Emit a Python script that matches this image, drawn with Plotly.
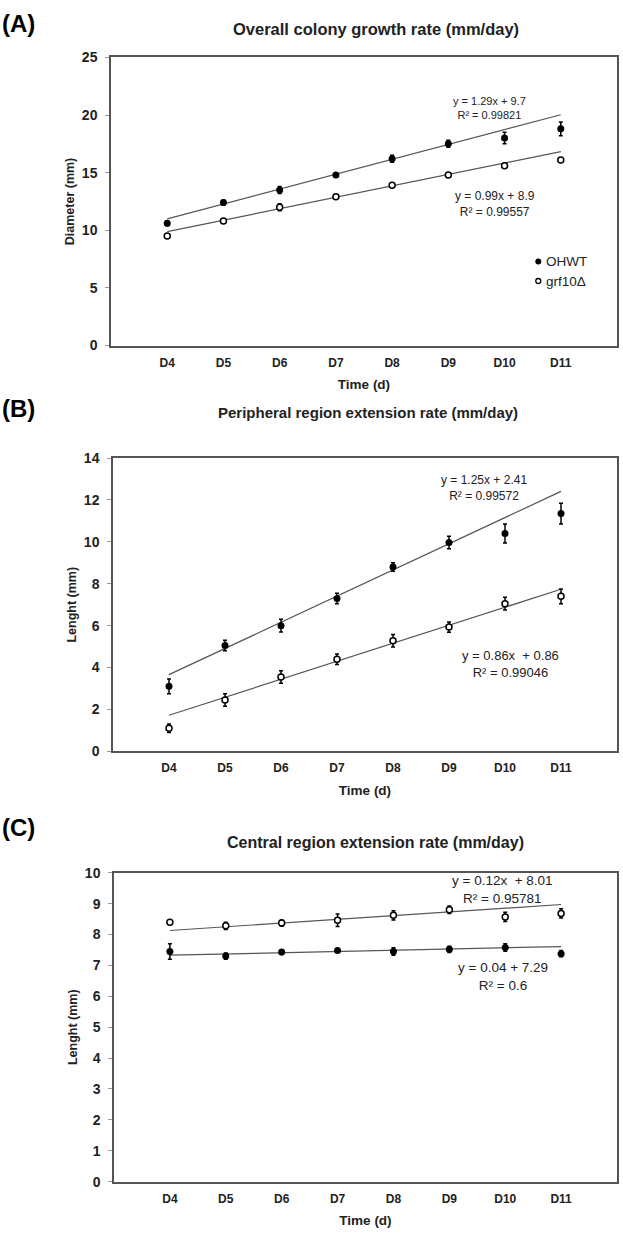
import plotly.graph_objects as go

# ---------------- data ----------------
days = [4, 5, 6, 7, 8, 9, 10, 11]
tick_labels = ["D4", "D5", "D6", "D7", "D8", "D9", "D10", "D11"]
series_names = ["OHWT", "grf10Δ"]

A_wt = [10.6, 12.4, 13.5, 14.8, 16.2, 17.5, 18.0, 18.8]
A_wt_err = [0.2, 0.2, 0.3, 0.2, 0.3, 0.3, 0.5, 0.6]
A_grf = [9.5, 10.8, 12.0, 12.9, 13.9, 14.8, 15.6, 16.1]
A_grf_err = [0.15, 0.15, 0.3, 0.15, 0.2, 0.2, 0.15, 0.15]

B_wt = [3.1, 5.05, 6.0, 7.3, 8.8, 9.97, 10.4, 11.35]
B_wt_err = [0.35, 0.25, 0.3, 0.25, 0.2, 0.3, 0.45, 0.5]
B_grf = [1.1, 2.45, 3.55, 4.4, 5.28, 5.93, 7.05, 7.4]
B_grf_err = [0.2, 0.3, 0.3, 0.25, 0.3, 0.25, 0.3, 0.35]

C_wt = [7.45, 7.3, 7.43, 7.48, 7.45, 7.52, 7.58, 7.38]
C_wt_err = [0.25, 0.1, 0.08, 0.05, 0.12, 0.1, 0.12, 0.1]
C_grf = [8.4, 8.28, 8.37, 8.46, 8.62, 8.8, 8.57, 8.68]
C_grf_err = [0.05, 0.12, 0.1, 0.2, 0.15, 0.12, 0.15, 0.15]

# trendline coefficients (Excel index x = 1..8)
A_fit = {"wt": (1.29, 9.7), "grf": (0.99, 8.9)}
B_fit = {"wt": (1.25, 2.41), "grf": (0.86, 0.86)}
C_fit = {"wt": (0.04, 7.29), "grf": (0.12, 8.01)}

A_eq = ["y = 1.29x + 9.7<br>R² = 0.99821", "y = 0.99x + 8.9<br>R² = 0.99557"]
B_eq = ["y = 1.25x + 2.41<br>R² = 0.99572", "y = 0.86x  + 0.86<br>R² = 0.99046"]
C_eq = ["y = 0.04 + 7.29<br>R² = 0.6", "y = 0.12x  + 8.01<br>R² = 0.95781"]

panel_titles = ["Overall colony growth rate (mm/day)",
                "Peripheral region extension rate (mm/day)",
                "Central region extension rate (mm/day)"]
panel_letters = ["(A)", "(B)", "(C)"]
y_titles = ["Diameter (mm)", "Lenght (mm)", "Lenght (mm)"]
y_ranges = [(0, 25, 5), (0, 14, 2), (0, 10, 1)]

# ---------------- layout helpers ----------------
W, H = 623, 1240
def px_x(p): return p / W
def px_y(p): return 1 - p / H

boxes = [  # left, right, top, bottom in px
    (111, 617, 50, 342),
    (113, 617, 456, 753),
    (114, 617, 876, 1189),
]

FONT = "Liberation Sans, Arial, sans-serif"
fig = go.Figure()

panels = [
    (A_wt, A_wt_err, A_grf, A_grf_err, A_fit),
    (B_wt, B_wt_err, B_grf, B_grf_err, B_fit),
    (C_wt, C_wt_err, C_grf, C_grf_err, C_fit),
]

for i, (wt, wte, grf, grfe, fit) in enumerate(panels):
    xa = "x" if i == 0 else f"x{i+1}"
    ya = "y" if i == 0 else f"y{i+1}"
    for key in ["wt", "grf"]:
        m, b = fit[key]
        xs = [days[0], days[-1]]
        ys = [m * (d - days[0] + 1) + b for d in xs]
        fig.add_trace(go.Scatter(x=xs, y=ys, mode="lines", xaxis=xa, yaxis=ya,
                                 line=dict(color="#555555", width=1.2),
                                 showlegend=False, hoverinfo="skip"))
    fig.add_trace(go.Scatter(
        x=days, y=wt, mode="markers", xaxis=xa, yaxis=ya, name=series_names[0],
        showlegend=False,
        marker=dict(symbol="circle", size=7, color="black"),
        error_y=dict(type="data", array=wte, color="black", thickness=1.5, width=2)))
    fig.add_trace(go.Scatter(
        x=days, y=grf, mode="markers", xaxis=xa, yaxis=ya, name=series_names[1],
        showlegend=False,
        marker=dict(symbol="circle", size=6, color="white",
                    line=dict(color="black", width=1.5)),
        error_y=dict(type="data", array=grfe, color="black", thickness=1.5, width=2)))

layout = dict(
    width=W, height=H, autosize=False,
    margin=dict(l=0, r=0, t=0, b=0),
    paper_bgcolor="white", plot_bgcolor="white",
    font=dict(family=FONT, color="black"),
    showlegend=False,
)
annotations = []
for i, (l, r, t, b) in enumerate(boxes):
    sfx = "" if i == 0 else str(i + 1)
    lo, hi, step = y_ranges[i]
    layout["xaxis" + sfx] = dict(
        domain=[px_x(l), px_x(r)], range=[3, 12], anchor="y" + sfx,
        tickvals=days, ticktext=["<b>%s</b>" % t_ for t_ in tick_labels],
        tickfont=dict(size=12, family=FONT, color="#222"),
        showgrid=False, zeroline=False, showline=True, linecolor="#555",
        linewidth=1.5, mirror=True, ticks="", ticklabelstandoff=5,
        title=dict(text="<b>Time (d)</b>", font=dict(size=13.5, family=FONT, color="#222"),
                   standoff=11),
    )
    layout["yaxis" + sfx] = dict(
        domain=[px_y(b), px_y(t)], range=[lo, hi], anchor="x" + sfx,
        tickvals=list(range(lo, hi + 1, step)),
        ticktext=["<b>%d</b>" % v for v in range(lo, hi + 1, step)],
        tickfont=dict(size=14, family=FONT, color="#222"),
        showgrid=False, zeroline=False, showline=True, linecolor="#555",
        linewidth=1.5, mirror=True, ticks="outside", ticklen=4, tickcolor="#999",
        ticklabelstandoff=5,
        title=dict(text="<b>%s</b>" % y_titles[i], font=dict(size=12.5, family=FONT, color="#222"),
                   standoff=4),
    )

# panel letters and titles
letter_y = [16, 406, 830]
title_y = [21, 410, 845]
title_x = [376, 368, 376]
title_size = [16.5, 15, 16]
for i in range(3):
    annotations.append(dict(text="<b>%s</b>" % panel_letters[i], x=px_x(0), y=px_y(letter_y[i]),
                            xref="paper", yref="paper", xanchor="left", yanchor="middle",
                            showarrow=False, font=dict(size=24, family=FONT, color="black")))
    annotations.append(dict(text="<b>%s</b>" % panel_titles[i], x=px_x(title_x[i]), y=px_y(title_y[i]),
                            xref="paper", yref="paper", xanchor="center", yanchor="middle",
                            showarrow=False, font=dict(size=title_size[i], family=FONT, color="#222")))

# equations (positions in data coords)
eqs = [
    ("x", "y", A_eq, [(9.74, 20.6), (9.83, 12.3)], 11, 12),
    ("x2", "y2", B_eq, [(9.62, 12.55), (10.1, 4.17)], 12, 13),
    ("x3", "y3", C_eq, [(9.96, 6.63), (9.96, 9.46)], 13.5, 13.5),
]
for xr, yr, texts, pos, fs1, fs2 in eqs:
    for txt, (xx, yy), fs in zip(texts, pos, [fs1, fs2]):
        annotations.append(dict(text=txt, x=xx, y=yy, xref=xr, yref=yr, showarrow=False,
                                xanchor="center", yanchor="middle", align="center",
                                font=dict(size=fs, family=FONT, color="#222")))

# legend in panel A (drawn as markers + text)
leg_x, leg_y = 10.6, [7.3, 5.6]
fig.add_trace(go.Scatter(x=[leg_x], y=[leg_y[0]], mode="markers", xaxis="x", yaxis="y",
                         marker=dict(symbol="circle", size=6, color="black"),
                         showlegend=False, hoverinfo="skip"))
fig.add_trace(go.Scatter(x=[leg_x], y=[leg_y[1]], mode="markers", xaxis="x", yaxis="y",
                         marker=dict(symbol="circle", size=5, color="white",
                                     line=dict(color="black", width=1.3)),
                         showlegend=False, hoverinfo="skip"))
for k in range(2):
    annotations.append(dict(text=series_names[k], x=leg_x + 0.1, y=leg_y[k], xref="x", yref="y",
                            xanchor="left", yanchor="middle", showarrow=False,
                            font=dict(size=13.5, family=FONT, color="#222")))

layout["annotations"] = annotations
fig.update_layout(**layout)
fig.write_html("out.html", config={"displayModeBar": False},
               post_script="document.body.style.margin='0';document.body.style.overflow='hidden';"
                           "document.documentElement.style.overflow='hidden';")
